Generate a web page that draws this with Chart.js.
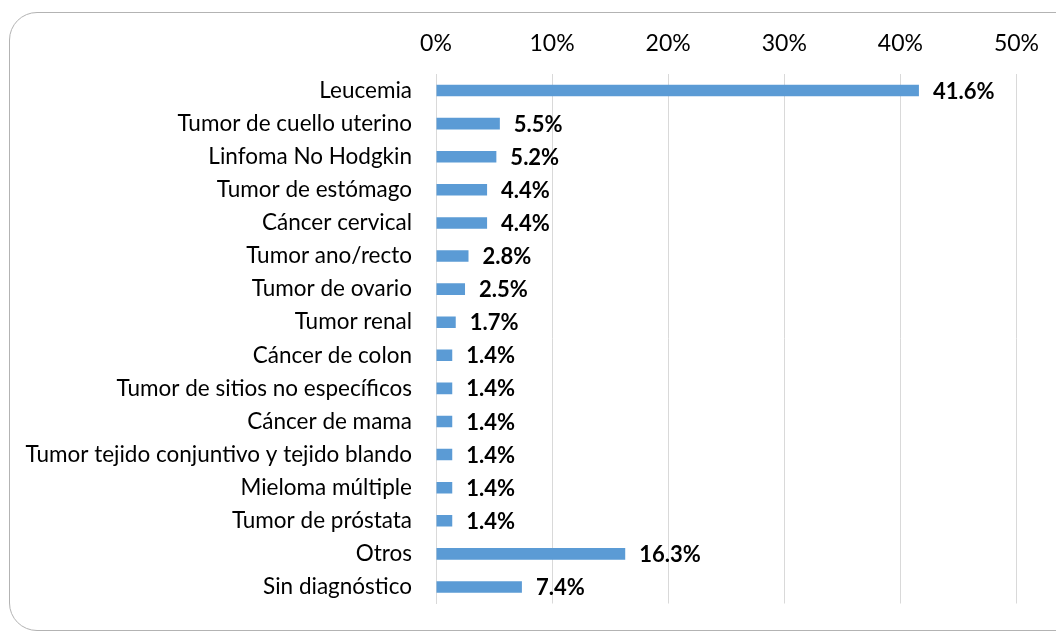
<!DOCTYPE html>
<html>
<head>
<meta charset="utf-8">
<script src="https://cdn.jsdelivr.net/npm/chart.js@4/dist/chart.umd.min.js"></script>
<style>
  html, body { margin: 0; padding: 0; background: #fff; overflow: hidden; }
  #wrap { position: relative; width: 1056px; height: 641px; }
  #frame { position: absolute; left: 9px; top: 12px; width: 1080px; height: 619px;
           border: 1.5px solid #b3b3b3; border-radius: 28px; box-sizing: border-box; }
  canvas { position: absolute; left: 0; top: 0; }
</style>
</head>
<body>
<div id="wrap">
  <div id="frame"></div>
  <canvas id="c" width="1056" height="641"></canvas>
</div>
<script>
const categories = [
  "Leucemia",
  "Tumor de cuello uterino",
  "Linfoma No Hodgkin",
  "Tumor de estómago",
  "Cáncer cervical",
  "Tumor ano/recto",
  "Tumor de ovario",
  "Tumor renal",
  "Cáncer de colon",
  "Tumor de sitios no específicos",
  "Cáncer de mama",
  "Tumor tejido conjuntivo y tejido blando",
  "Mieloma múltiple",
  "Tumor de próstata",
  "Otros",
  "Sin diagnóstico"
];
const percentValues = [41.6, 5.5, 5.2, 4.4, 4.4, 2.8, 2.5, 1.7, 1.4, 1.4, 1.4, 1.4, 1.4, 1.4, 16.3, 7.4];
const tickValues = [0, 10, 20, 30, 40, 50];

const FONT = "Lato, 'Open Sans', sans-serif";

const valueLabels = {
  id: 'valueLabels',
  afterDatasetsDraw(chart) {
    const ctx = chart.ctx;
    const meta = chart.getDatasetMeta(0);
    ctx.save();
    ctx.font = "bold 22px " + FONT;
    ctx.fillStyle = "#000";
    ctx.textAlign = "left";
    ctx.textBaseline = "middle";
    meta.data.forEach((bar, i) => {
      ctx.fillText(percentValues[i].toFixed(1) + "%", bar.x + 14, bar.y + 1);
    });
    ctx.restore();
  }
};

new Chart(document.getElementById('c'), {
  type: 'bar',
  data: {
    labels: categories,
    datasets: [{
      data: percentValues,
      backgroundColor: '#5B9BD5',
      borderWidth: 0,
      barPercentage: 0.35,
      categoryPercentage: 1.0
    }]
  },
  options: {
    indexAxis: 'y',
    responsive: false,
    animation: false,
    devicePixelRatio: 1,
    layout: { padding: { left: 0, top: 0, right: 39, bottom: 22 } },
    plugins: { legend: { display: false }, tooltip: { enabled: false } },
    scales: {
      x: {
        position: 'top',
        min: tickValues[0],
        max: tickValues[tickValues.length - 1],
        afterBuildTicks(scale) { scale.ticks = tickValues.map(v => ({ value: v })); },
        afterFit(scale) { scale.height = 74; },
        grid: { color: '#d9d9d9', lineWidth: 1, drawTicks: false },
        border: { display: false },
        ticks: {
          padding: 17,
          color: '#000',
          font: { family: FONT, size: 23 },
          callback: v => v + '%'
        }
      },
      y: {
        afterFit(scale) { scale.width = 436; },
        grid: { display: false, drawTicks: false },
        border: { display: true, color: '#d9d9d9', width: 1 },
        ticks: {
          padding: 24,
          color: '#000',
          autoSkip: false,
          font: { family: FONT, size: 22.5 }
        }
      }
    }
  },
  plugins: [valueLabels]
});
</script>
</body>
</html>
